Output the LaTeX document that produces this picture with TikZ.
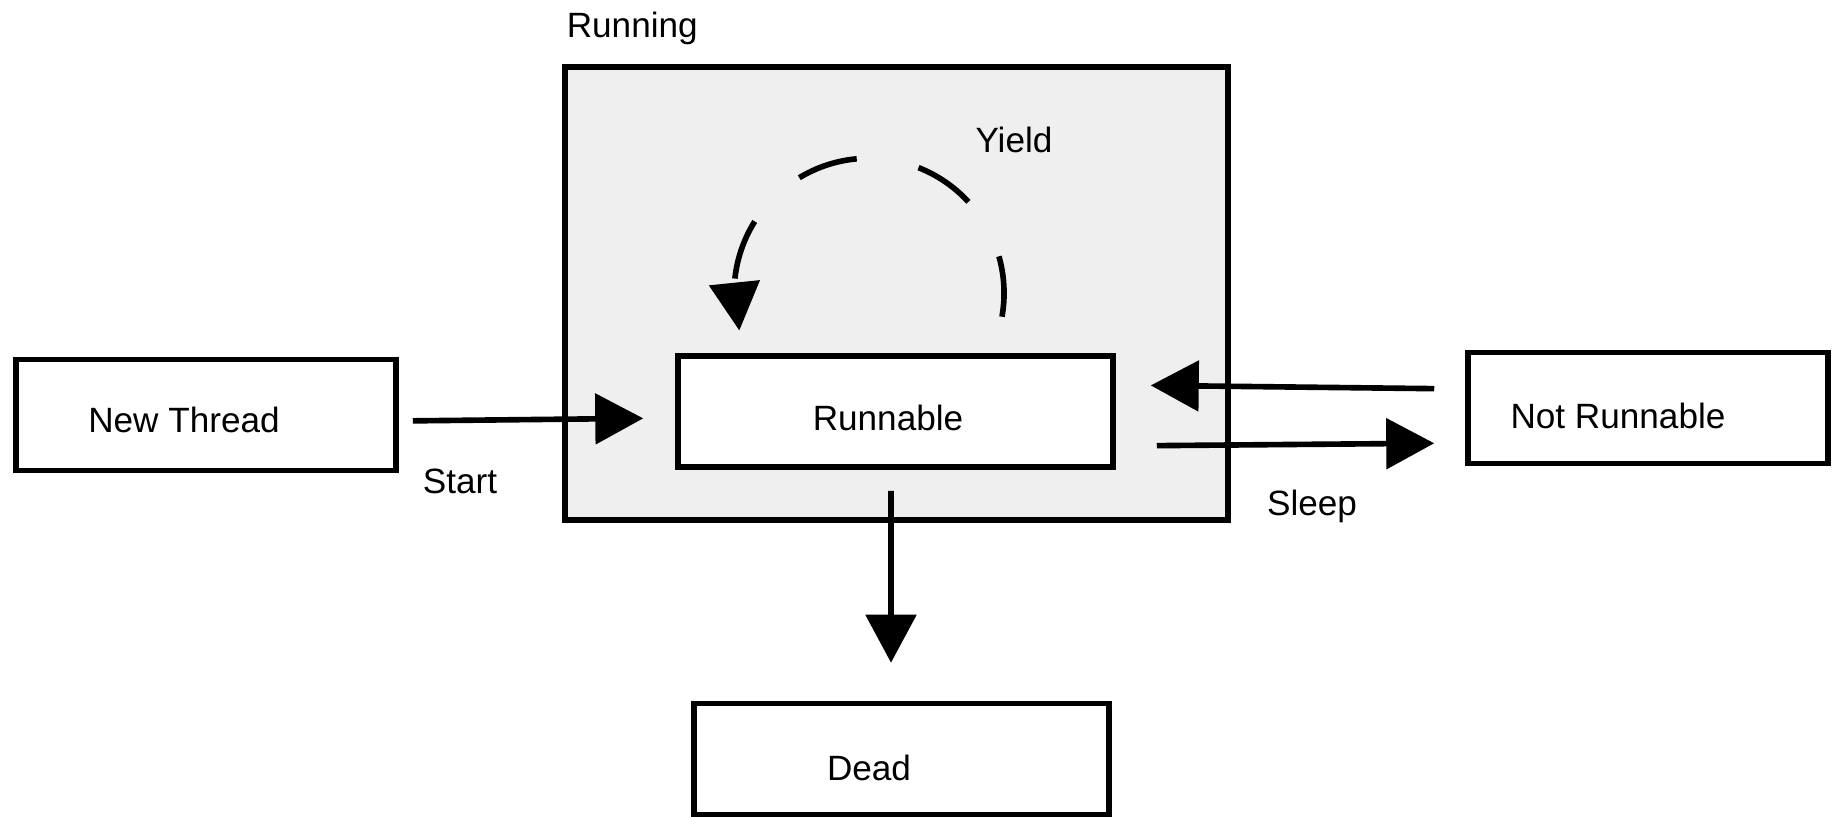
\documentclass[tikz,border=0pt]{standalone}
\usepackage{fontspec}
\setmainfont{Liberation Sans}
\usetikzlibrary{arrows.meta,bending}
\definecolor{runbg}{RGB}{239,239,239}
\begin{document}
\begin{tikzpicture}[
    x=0.02cm, y=-0.02cm,
    line width=3.2pt,
    state/.style={draw, fill=white, minimum height=2.22cm, inner sep=0pt},
    txt/.style={anchor=base, inner sep=0pt},
    arr/.style={-{Triangle[length=0.96cm,width=1cm]}},
    every node/.append style={font=\fontsize{20}{24}\selectfont}
  ]
    \useasboundingbox (0,0) rectangle (1836,817);
    % running area
    \node [draw, fill=runbg, minimum width=13.26cm, minimum height=9.06cm] (r) at (896.5,293.5) {};
    \node [txt, anchor=base west] (rt) at (564,38) {Running};
    % states
    \node [state, minimum width=7.6cm] (n) at (206,415) {};
    \node [state, minimum width=8.7cm] (a) at (895.5,411.5) {};
    \node [state, minimum width=7.2cm] (s) at (1648,408) {};
    \node [state, minimum width=8.3cm] (d) at (901.5,759) {};
    \node [txt] (nt) at (184,433) {New Thread};
    \node [txt] (at) at (888,431) {Runnable};
    \node [txt] (st) at (1618,428.5) {Not Runnable};
    \node [txt] (dt) at (869,780) {Dead};
    % transitions
    \draw [arr, shorten <=0.28cm, shorten >=0.64cm]
      ([yshift=-0.12cm]n.east) -- ([yshift=-0.13cm]a.west);
    \node [txt] (l1) at (460,493) {Start};
    \draw [arr, shorten <=0.62cm, shorten >=0.7cm]
      ([yshift=0.38cm]s.west) -- ([yshift=0.53cm]a.east);
    \draw [arr, shorten <=0.82cm, shorten >=0.62cm]
      ([yshift=-0.69cm]a.east) -- ([yshift=-0.7cm]s.west);
    \node [txt] (l2) at (1312,515) {Sleep};
    \draw [arr, shorten <=0.42cm, shorten >=0.76cm]
      ([xshift=-0.09cm]a.south) -- ([xshift=-0.21cm]d.north);
    \draw [arr, dash pattern=on 1.22cm off 1.26cm]
      ([xshift=2.13cm,yshift=0.73cm]a.north) arc [start angle=-10, end angle=196, radius=2.7cm];
    \node [txt] (l3) at (1014,153) {Yield};
  \end{tikzpicture}
\end{document}
